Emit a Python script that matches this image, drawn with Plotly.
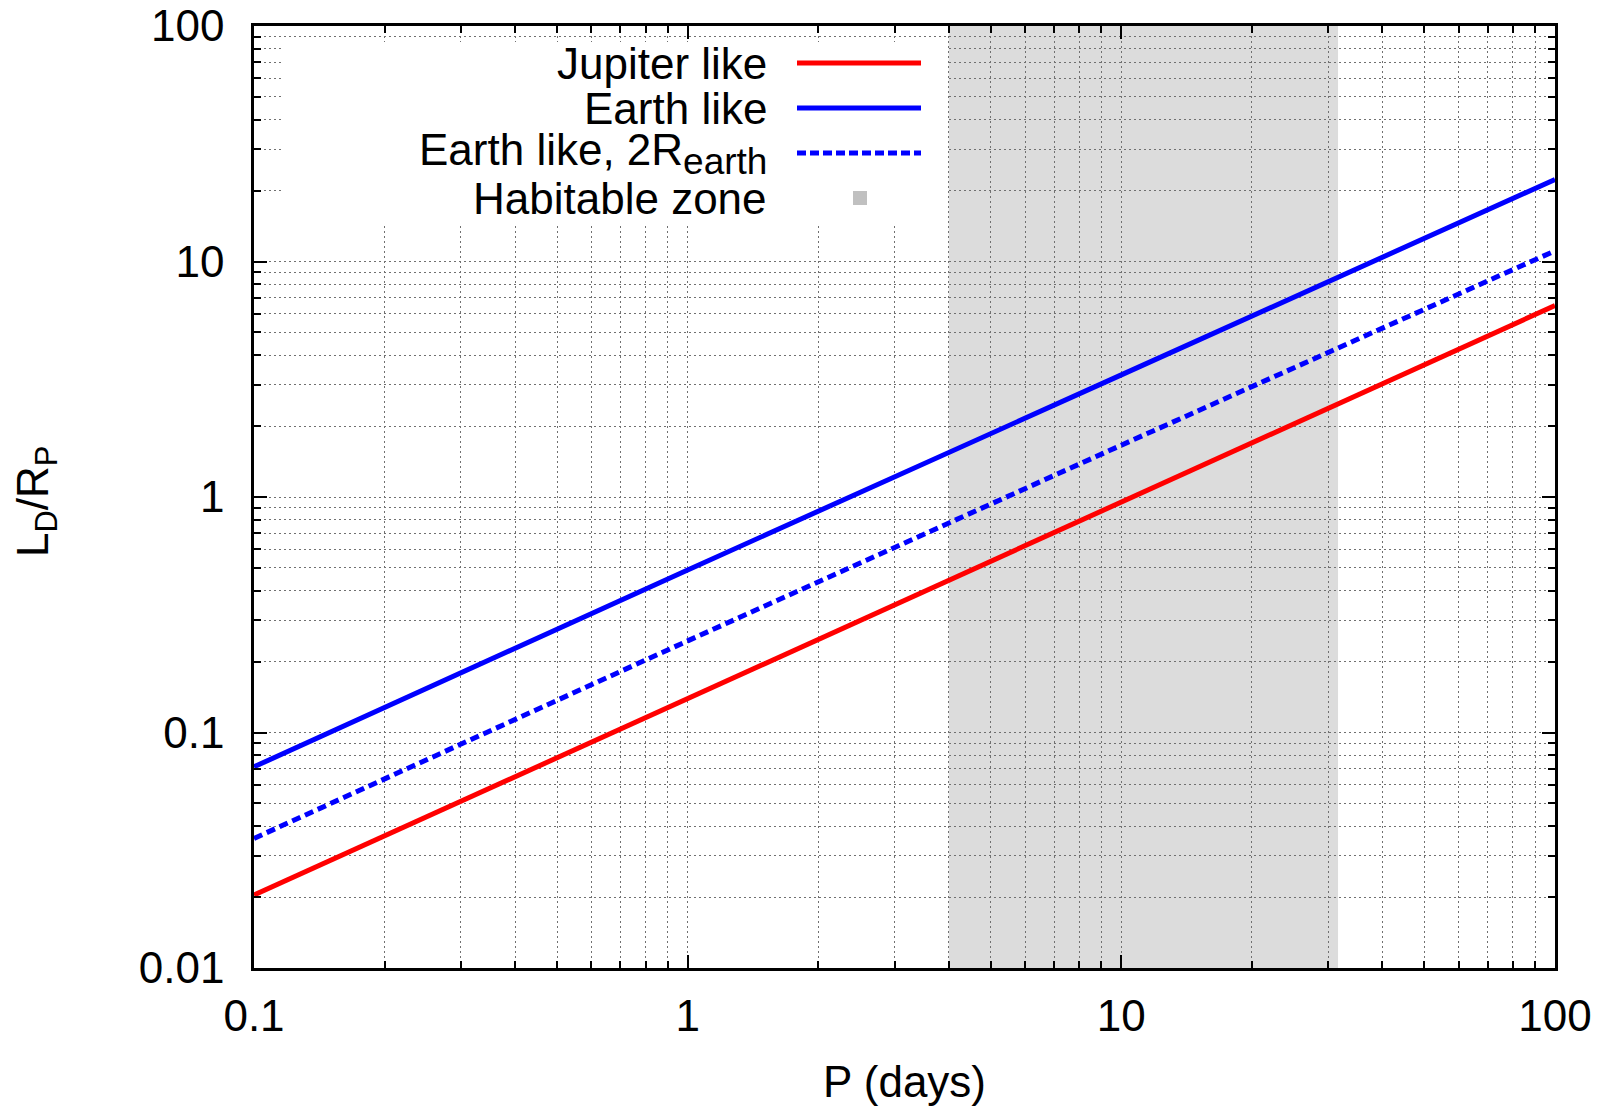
import plotly.graph_objects as go

# ---- data ----
P_days = [0.1, 1, 10, 100]
jupiter_like = [0.0204, 0.139, 0.95, 6.5]
earth_like = [0.0715, 0.49, 3.3, 22.3]
earth_like_2r = [0.0355, 0.245, 1.66, 11.1]
habitable_zone = [4.0, 31.6]

x_tickvals = [0.1, 1, 10, 100]
x_ticktext = ["0.1", "1", "10", "100"]
y_tickvals = [0.01, 0.1, 1, 10, 100]
y_ticktext = ["0.01", "0.1", "1", "10", "100"]

legend_labels = ["Jupiter like", "Earth like",
                 "Earth like, 2R<sub><span style='font-size:37px'>earth</span></sub>",
                 "Habitable zone"]

# ---- layout geometry (pixels) ----
W, H = 1607, 1109
L, R, T, B = 254, 1555, 26, 968
FONT = "Liberation Sans, Arial, sans-serif"
FS = 44
LW = 5


def px(xp):
    return (xp - L) / (R - L)


def py(yp):
    return (B - yp) / (B - T)


fig = go.Figure()

fig.add_trace(go.Scatter(x=P_days, y=jupiter_like, mode="lines",
                         line=dict(color="#ff0000", width=LW), showlegend=False))
fig.add_trace(go.Scatter(x=P_days, y=earth_like, mode="lines",
                         line=dict(color="#0000ff", width=LW), showlegend=False))
fig.add_trace(go.Scatter(x=P_days, y=earth_like_2r, mode="lines",
                         line=dict(color="#0000ff", width=LW, dash="9px,5px"), showlegend=False))

shapes = []
# habitable zone band
shapes.append(dict(type="rect", xref="x", yref="paper", x0=habitable_zone[0], x1=habitable_zone[1],
                   y0=0, y1=1, fillcolor="#dcdcdc", line=dict(width=0), layer="below"))
# opaque legend box
shapes.append(dict(type="rect", xref="paper", yref="paper", x0=px(282), x1=px(947),
                   y0=py(223), y1=py(42), fillcolor="white", line=dict(width=0), layer="above"))

row_y = [63, 108, 153, 198]
sample_styles = [dict(color="#ff0000", width=LW),
                 dict(color="#0000ff", width=LW),
                 dict(color="#0000ff", width=LW, dash="9px,4px")]
for i, st in enumerate(sample_styles):
    shapes.append(dict(type="line", xref="paper", yref="paper", x0=px(797), x1=px(921),
                       y0=py(row_y[i]), y1=py(row_y[i]), line=st, layer="above"))
shapes.append(dict(type="rect", xref="paper", yref="paper", x0=px(853), x1=px(867),
                   y0=py(row_y[3] + 7), y1=py(row_y[3] - 7), fillcolor="#c0c0c0",
                   line=dict(width=0), layer="above"))

annotations = []
for i, lab in enumerate(legend_labels):
    annotations.append(dict(text=lab, xref="paper", yref="paper", x=px(769), y=py(row_y[i] + 1),
                            xanchor="right", yanchor="middle", showarrow=False,
                            font=dict(family=FONT, size=FS, color="black")))
annotations.append(dict(text="P (days)", xref="paper", yref="paper", x=0.5, y=py(1081),
                        xanchor="center", yanchor="middle", showarrow=False,
                        font=dict(family=FONT, size=FS, color="black")))
annotations.append(dict(text="L<sub>D</sub>/R<sub>P</sub>", xref="paper", yref="paper", x=px(36), y=py(502),
                        xanchor="center", yanchor="middle", showarrow=False, textangle=-90,
                        font=dict(family=FONT, size=FS, color="black")))

grid_common = dict(gridcolor="#707070", gridwidth=1, griddash="2px,3px")

fig.update_layout(
    width=W, height=H,
    margin=dict(l=L, r=W - R, t=T, b=H - B, autoexpand=False),
    paper_bgcolor="white", plot_bgcolor="white",
    shapes=shapes, annotations=annotations,
    font=dict(family=FONT, size=FS, color="black"),
    showlegend=False,
)

fig.update_xaxes(type="log", range=[-1, 2], tickvals=x_tickvals, ticktext=x_ticktext,
                 ticks="inside", ticklen=13, tickwidth=2, tickcolor="black",
                 showline=True, linewidth=2.5, linecolor="black", mirror="ticks",
                 showgrid=True, **grid_common, zeroline=False,
                 ticklabelstandoff=7,
                 tickfont=dict(family=FONT, size=FS, color="black"),
                 minor=dict(dtick="D1", ticks="inside", ticklen=7, tickwidth=2, tickcolor="black",
                            showgrid=True, **grid_common))
fig.update_yaxes(type="log", range=[-2, 2], tickvals=y_tickvals, ticktext=y_ticktext,
                 ticks="inside", ticklen=13, tickwidth=2, tickcolor="black",
                 showline=True, linewidth=2.5, linecolor="black", mirror="ticks",
                 showgrid=True, **grid_common, zeroline=False,
                 ticklabelstandoff=18,
                 tickfont=dict(family=FONT, size=FS, color="black"),
                 minor=dict(dtick="D1", ticks="inside", ticklen=7, tickwidth=2, tickcolor="black",
                            showgrid=True, **grid_common))

fig.write_html("out.html")
